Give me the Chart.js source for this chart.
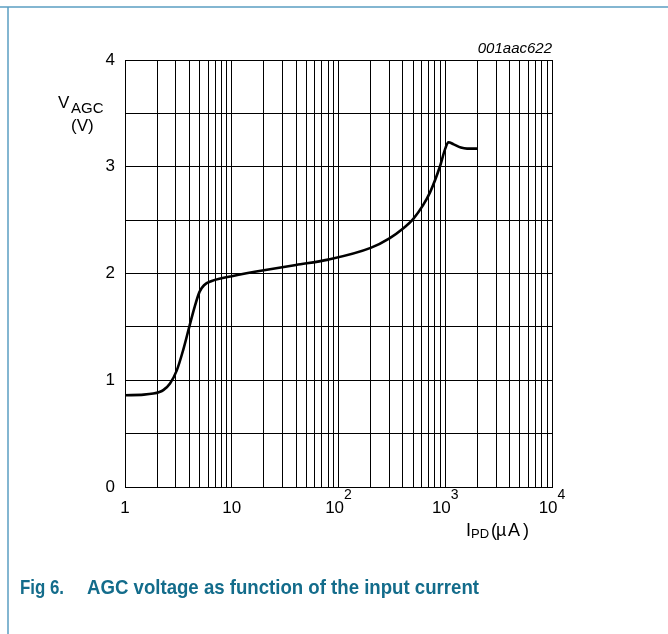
<!DOCTYPE html>
<html>
<head>
<meta charset="utf-8">
<script src="https://cdn.jsdelivr.net/npm/chart.js@4.4.1/dist/chart.umd.min.js"></script>
<style>
  html, body { margin: 0; padding: 0; background: #fff; }
  #wrap { width: 668px; height: 634px; position: relative; }
</style>
</head>
<body>
<div id="wrap"><canvas id="c" width="668" height="634"></canvas></div>
<script>
// ---- data ----
const currentUA = [1, 1.5, 1.84, 2.1, 2.3, 2.64, 3.05, 3.5, 4, 4.5, 5.0, 5.5, 6.5, 8, 10, 20, 40, 80, 200, 300, 400, 500, 620, 720, 890, 1000, 1070, 1200, 1400, 1600, 2000];
const vagc      = [0.86, 0.865, 0.875, 0.89, 0.91, 0.97, 1.09, 1.28, 1.50, 1.69, 1.83, 1.89, 1.93, 1.955, 1.975, 2.03, 2.08, 2.13, 2.24, 2.33, 2.42, 2.51, 2.64, 2.76, 3.0, 3.17, 3.23, 3.21, 3.18, 3.17, 3.17];
const yTickValues = [0, 1, 2, 3, 4];
const xTickValues = [1, 10, 100, 1000, 10000];
const xTickBase = ['1', '10', '10', '10', '10'];
const xTickExp  = ['', '', '2', '3', '4'];
const decades = [1, 10, 100, 1000];
const figId = '001aac622';
const caption1 = 'Fig 6.';
const caption2 = 'AGC voltage as function of the input current';

const points = currentUA.map((x, i) => ({ x: x, y: vagc[i] }));
const FONT = "'Liberation Sans', Arial, Helvetica, sans-serif";

const decor = {
  id: 'decor',
  afterDraw(chart) {
    const ctx = chart.ctx;
    const xs = chart.scales.x, ys = chart.scales.y;
    ctx.save();
    // frame lines
    ctx.strokeStyle = '#5b9fc2';
    ctx.lineWidth = 1.5;
    ctx.beginPath();
    ctx.moveTo(0, 7); ctx.lineTo(668, 7);
    ctx.moveTo(8, 7); ctx.lineTo(8, 634);
    ctx.stroke();

    ctx.fillStyle = '#000';
    // y tick labels
    ctx.font = '17px ' + FONT;
    ctx.textAlign = 'right';
    ctx.textBaseline = 'middle';
    yTickValues.forEach(v => ctx.fillText(String(v), 115, ys.getPixelForValue(v)));

    // x tick labels with superscripts
    ctx.textBaseline = 'alphabetic';
    xTickValues.forEach((v, i) => {
      const px = xs.getPixelForValue(v);
      ctx.font = '17px ' + FONT;
      const wb = ctx.measureText(xTickBase[i]).width;
      let we = 0;
      if (xTickExp[i]) { ctx.font = '14px ' + FONT; we = ctx.measureText(xTickExp[i]).width; }
      const x0 = px - (wb + we) / 2;
      ctx.font = '17px ' + FONT;
      ctx.textAlign = 'left';
      ctx.fillText(xTickBase[i], x0, 513);
      if (xTickExp[i]) { ctx.font = '14px ' + FONT; ctx.fillText(xTickExp[i], x0 + wb, 499); }
    });

    // y axis title V_AGC (V)
    ctx.textAlign = 'left';
    ctx.font = '17px ' + FONT;
    ctx.fillText('V', 58, 108);
    ctx.font = '15px ' + FONT;
    ctx.fillText('AGC', 71, 113);
    ctx.font = '17px ' + FONT;
    ctx.fillText('(V)', 71, 131);

    // x axis title I_PD (µA)
    ctx.font = '18px ' + FONT;
    ctx.fillText('I', 466, 536);
    ctx.font = '13px ' + FONT;
    ctx.fillText('PD', 471, 538);
    ctx.font = '18px ' + FONT;
    ctx.fillText('(', 491, 536);
    ctx.fillText('\u00B5', 496, 536);
    ctx.fillText('A', 508, 536);
    ctx.fillText(')', 523, 536);

    // figure id
    ctx.font = 'italic 15px ' + FONT;
    ctx.textAlign = 'right';
    ctx.fillText(figId, 552, 53);

    // caption
    ctx.fillStyle = '#136c8b';
    ctx.textAlign = 'left';
    ctx.font = 'bold 21px ' + FONT;
    ctx.fillText(caption1, 20, 594, 44);
    ctx.fillText(caption2, 87, 594, 392);
    ctx.restore();
  }
};

new Chart(document.getElementById('c'), {
  type: 'line',
  data: {
    datasets: [{
      data: points,
      borderColor: '#000',
      borderWidth: 2.6,
      pointRadius: 0,
      fill: false,
      cubicInterpolationMode: 'monotone'
    }]
  },
  options: {
    responsive: false,
    animation: false,
    devicePixelRatio: 1,
    layout: { padding: { left: 125, top: 60, right: 116, bottom: 147 } },
    plugins: { legend: { display: false }, tooltip: { enabled: false } },
    scales: {
      x: {
        type: 'logarithmic',
        min: 1, max: 10000,
        afterBuildTicks(scale) {
          const t = [];
          decades.forEach(d => { for (let k = 1; k <= 9; k++) t.push({ value: d * k }); });
          t.push({ value: 10000 });
          scale.ticks = t;
        },
        ticks: { display: false, autoSkip: false },
        grid: { color: '#000', lineWidth: 1, drawTicks: false },
        border: { display: true, color: '#000', width: 1 }
      },
      y: {
        type: 'linear',
        min: 0, max: 4,
        ticks: { display: false, stepSize: 0.5 },
        grid: { color: '#000', lineWidth: 1, drawTicks: false },
        border: { display: true, color: '#000', width: 1 }
      }
    }
  },
  plugins: [decor]
});
</script>
</body>
</html>
